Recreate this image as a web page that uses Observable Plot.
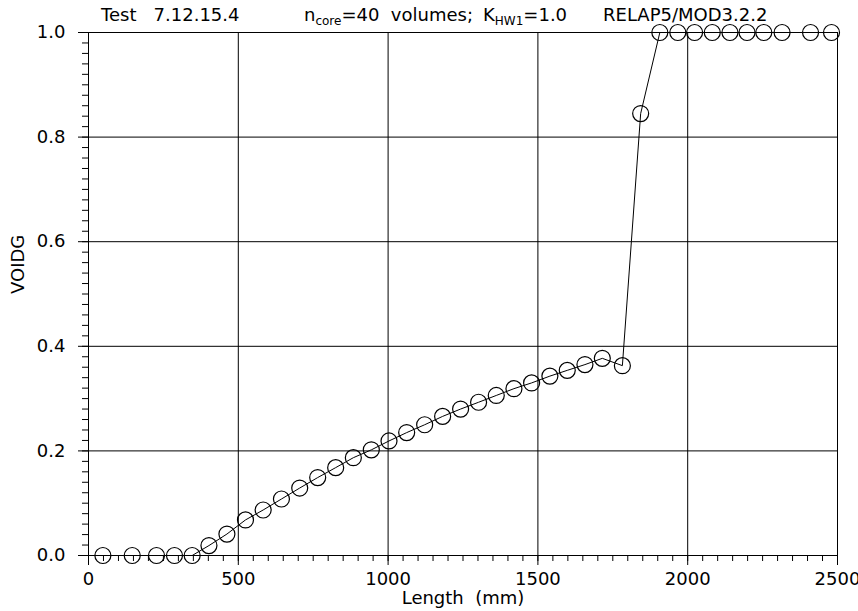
<!DOCTYPE html>
<html><head><meta charset="utf-8">
<script src="https://cdn.jsdelivr.net/npm/d3@7"></script>
<script src="https://cdn.jsdelivr.net/npm/@observablehq/plot@0.6"></script>
<style>html,body{margin:0;padding:0;background:#fff;overflow:hidden}</style>
</head><body><div id="chart"></div>
<script>
// Data
const lengthMm = [48, 146, 227, 287, 346, 402, 462, 524, 583, 644,
  705, 765, 825, 884, 944, 1003, 1062, 1122, 1182, 1242,
  1302, 1361, 1420, 1479, 1540, 1598, 1657, 1715, 1782, 1843,
  1907, 1967, 2023, 2082, 2141, 2198, 2254, 2315, 2410, 2480];
const voidg = [0, 0, 0, 0, 0, 0.019, 0.041, 0.068, 0.087, 0.108,
  0.129, 0.149, 0.168, 0.187, 0.202, 0.219, 0.235, 0.250, 0.266, 0.280,
  0.293, 0.306, 0.319, 0.330, 0.343, 0.354, 0.365, 0.377, 0.363, 0.845,
  1, 1, 1, 1, 1, 1, 1, 1, 1, 1];
const xMajorTicks = [0, 500, 1000, 1500, 2000, 2500];
const xGridLines = [500, 1000, 1500, 2000];
const yMajorTicks = [0, 0.2, 0.4, 0.6, 0.8, 1.0];
const yGridLines = [0.2, 0.4, 0.6, 0.8];
const xMinorTicks = d3.range(0, 2501, 50);
const yMinorTicks = d3.range(0, 51).map(i => i / 50);

const data = lengthMm.map((x, i) => ({x, y: voidg[i]}));
const font = "DejaVu Sans, sans-serif";

const plot = Plot.plot({
  width: 858, height: 611,
  marginLeft: 88, marginRight: 21, marginTop: 32, marginBottom: 56,
  style: {fontFamily: font, fontSize: "18px", color: "#000", background: "#fff", overflow: "hidden"},
  x: {domain: [0, 2500]},
  y: {domain: [0, 1]},
  marks: [
    Plot.gridX(xGridLines, {stroke: "#000", strokeOpacity: 1, strokeWidth: 1}),
    Plot.gridY(yGridLines, {stroke: "#000", strokeOpacity: 1, strokeWidth: 1}),
    Plot.frame({stroke: "#000", strokeWidth: 1}),
    Plot.axisX(xMinorTicks, {tickSize: 6, tickFormat: () => "", label: null, strokeWidth: 1}),
    Plot.axisX(xMajorTicks, {tickSize: 10, tickPadding: 7, tickFormat: d => String(d), label: null, strokeWidth: 1}),
    Plot.axisY(yMinorTicks, {tickSize: 6, tickFormat: () => "", label: null, strokeWidth: 1}),
    Plot.axisY(yMajorTicks, {tickSize: 10, tickPadding: 13, tickFormat: d => d.toFixed(1), label: null, strokeWidth: 1}),
    Plot.text(["Length  (mm)"], {frameAnchor: "bottom", dy: 48, lineAnchor: "bottom", text: d => d, fontSize: 18}),
    Plot.text(["VOIDG"], {frameAnchor: "left", dx: -70, rotate: -90, text: d => d, fontSize: 18}),
    Plot.line(data, {x: "x", y: "y", stroke: "#000", strokeWidth: 1}),
    Plot.dot(data, {x: "x", y: "y", r: 8, stroke: "#000", strokeWidth: 1.2, fill: "none"})
  ]
});

const svg = d3.select(plot);
const t = svg.append("text").attr("y", 21).attr("font-family", font).attr("font-size", 18)
  .attr("text-anchor", "start").attr("fill", "#000").style("white-space", "pre");
t.append("tspan").attr("x", 101).text("Test   7.12.15.4");
t.append("tspan").attr("x", 304).text("n");
t.append("tspan").attr("font-size", 12).attr("dy", 4).text("core");
t.append("tspan").attr("font-size", 18).attr("dy", -4).text("=40  volumes;");
t.append("tspan").attr("x", 483).text("K");
t.append("tspan").attr("font-size", 12).attr("dy", 4).text("HW1");
t.append("tspan").attr("font-size", 18).attr("dy", -4).text("=1.0");
t.append("tspan").attr("x", 603).text("RELAP5/MOD3.2.2");

document.getElementById("chart").appendChild(plot);
</script>
</body></html>
